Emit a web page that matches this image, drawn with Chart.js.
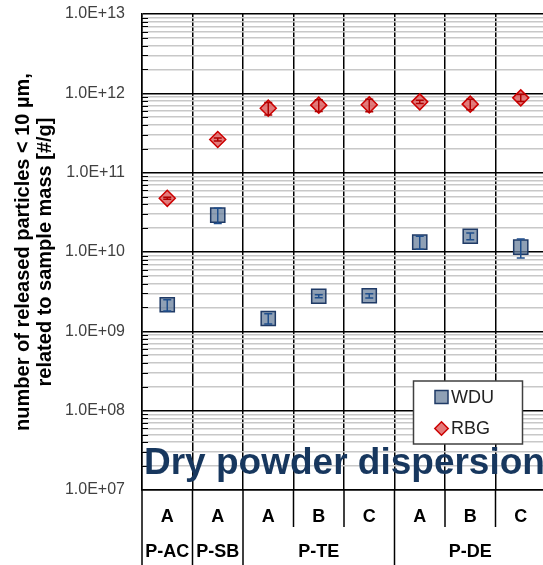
<!DOCTYPE html>
<html>
<head>
<meta charset="utf-8">
<style>
  html, body { margin: 0; padding: 0; background: #fff; overflow: hidden; }
  canvas { display: block; }
</style>
</head>
<body>
<canvas id="chart" width="546" height="565"></canvas>
<script src="https://cdn.jsdelivr.net/npm/chart.js@4"></script>
<script>
const categories = ['A', 'A', 'A', 'B', 'C', 'A', 'B', 'C']
const groups = ['P-AC', 'P-SB', 'P-TE', 'P-DE']
const groupSizes = [1, 1, 3, 3]

const wduValues = [2.16e9, 2.92e10, 1.45e9, 2.77e9, 2.81e9, 1.33e10, 1.58e10, 1.15e10]
const wduErrors = [3.5e8, 6.4e9, 2.1e8, 1.2e8, 1.7e8, 2.5e9, 1.5e9, 3.1e9]
const rbgValues = [4.75e10, 2.62e11, 6.5e11, 7.1e11, 7.16e11, 7.81e11, 7.31e11, 8.77e11]
const rbgErrors = [1.4e9, 1.2e10, 1.17e11, 1.2e11, 1.29e11, 3.9e10, 1.1e11, 8.8e10]

const yMajorTicks = [1e7, 1e8, 1e9, 1e10, 1e11, 1e12, 1e13]
const yTitle = ['number of released particles < 10 µm,', 'related to sample mass [#/g]']
const annotationText = 'Dry powder dispersion'

Chart.defaults.font.family = "'Liberation Sans', Arial, sans-serif"
Chart.defaults.animation = false

const isMajor = v => yMajorTicks.some(m => Math.abs(v / m - 1) < 1e-6)
const formatTick = v => {
    const exp = Math.round(Math.log10(v))
    return '1.0E+' + String(exp).padStart(2, '0')
}

// ticks 1..9 in every decade
function buildLogTicks(scale) {
    const ticks = []
    yMajorTicks.forEach((m, i) => {
        ticks.push({ value: m, major: true })
        if (i < yMajorTicks.length - 1) {
            for (let k = 2; k <= 9; k++) ticks.push({ value: m * k, major: false })
        }
    })
    scale.ticks = ticks
}

// small inner tick marks on the y axis + separators and group names under the x axis
const axisDecor = {
    id: 'axisDecor',
    beforeDatasetsDraw(chart) {
        const { ctx, scales: { y } } = chart
        ctx.save()
        ctx.strokeStyle = '#000'
        ctx.lineWidth = 1
        y.ticks.forEach(t => {
            if (isMajor(t.value)) return
            const py = Math.round(y.getPixelForValue(t.value)) + 0.5
            ctx.beginPath()
            ctx.moveTo(y.right, py)
            ctx.lineTo(y.right + 6, py)
            ctx.stroke()
        })
        ctx.restore()
    },
    afterDraw(chart) {
        const { ctx, scales: { x } } = chart
        const colW = x.getPixelForValue(1) - x.getPixelForValue(0)
        const groupEdges = [0]
        groupSizes.forEach(s => groupEdges.push(groupEdges[groupEdges.length - 1] + s))
        ctx.save()
        ctx.strokeStyle = '#000'
        ctx.lineWidth = 1.5
        for (let i = 0; i <= categories.length; i++) {
            const px = x.getPixelForValue(0) - colW / 2 + i * colW
            const end = groupEdges.includes(i) ? chart.height : x.top + 37
            ctx.beginPath()
            ctx.moveTo(px, x.top)
            ctx.lineTo(px, end)
            ctx.stroke()
        }
        ctx.fillStyle = '#000'
        ctx.font = "bold 18px 'Liberation Sans', Arial, sans-serif"
        ctx.textAlign = 'center'
        ctx.textBaseline = 'middle'
        groups.forEach((g, i) => {
            const a = x.getPixelForValue(groupEdges[i])
            const b = x.getPixelForValue(groupEdges[i + 1] - 1)
            ctx.fillText(g, (a + b) / 2, x.top + 62.5)
        })
        ctx.restore()
    }
}

const errorBars = {
    id: 'errorBars',
    afterDatasetsDraw(chart) {
        const { ctx, scales: { y } } = chart
        chart.data.datasets.forEach((ds, i) => {
            const meta = chart.getDatasetMeta(i)
            ctx.save()
            ctx.strokeStyle = ds.errorColor
            ctx.lineWidth = 1.5
            meta.data.forEach((pt, j) => {
                const v = ds.data[j]
                const e = ds.errors[j]
                const top = y.getPixelForValue(v + e)
                const bottom = y.getPixelForValue(v - e)
                ctx.beginPath()
                ctx.moveTo(pt.x, top)
                ctx.lineTo(pt.x, bottom)
                ctx.moveTo(pt.x - 4, top)
                ctx.lineTo(pt.x + 4, top)
                ctx.moveTo(pt.x - 4, bottom)
                ctx.lineTo(pt.x + 4, bottom)
                ctx.stroke()
            })
            ctx.restore()
        })
    }
}

const overlayText = {
    id: 'overlayText',
    afterDatasetsDraw(chart) {
        const { ctx, chartArea } = chart
        ctx.save()
        ctx.fillStyle = '#17375e'
        ctx.font = "bold 37px 'Liberation Sans', Arial, sans-serif"
        ctx.textAlign = 'left'
        ctx.textBaseline = 'alphabetic'
        ctx.fillText(annotationText, chartArea.left + 2, 473.5)
        ctx.restore()
    }
}

const legendBox = {
    id: 'legendBox',
    afterDraw(chart) {
        const { ctx } = chart
        ctx.save()
        ctx.fillStyle = '#fff'
        ctx.strokeStyle = '#404040'
        ctx.lineWidth = 1.5
        ctx.fillRect(413.5, 381, 109, 63)
        ctx.strokeRect(413.5, 381, 109, 63)
        chart.data.datasets.forEach((ds, i) => {
            const cy = 397 + i * 31.5
            ctx.fillStyle = ds.backgroundColor
            ctx.strokeStyle = ds.borderColor
            ctx.lineWidth = 1.5
            Chart.helpers.drawPoint(ctx, {
                pointStyle: ds.pointStyle,
                radius: ds.pointStyle === 'rect' ? 9.2 : 6.7,
                borderWidth: 1.5,
                rotation: 0
            }, 441.5, cy)
            ctx.fillStyle = '#222'
            ctx.font = "18px 'Liberation Sans', Arial, sans-serif"
            ctx.textAlign = 'left'
            ctx.textBaseline = 'middle'
            ctx.fillText(ds.label, 451, cy + 1)
        })
        ctx.restore()
    }
}

const data = {
    labels: categories,
    datasets: [{
        label: 'WDU',
        data: wduValues,
        errors: wduErrors,
        errorColor: '#1f4e8c',
        showLine: false,
        pointStyle: 'rect',
        pointRadius: 10,
        pointHoverRadius: 10,
        backgroundColor: 'rgba(105, 128, 156, 0.75)',
        borderColor: '#1f3a66',
        pointBorderWidth: 1.5
    }, {
        label: 'RBG',
        data: rbgValues,
        errors: rbgErrors,
        errorColor: '#b00000',
        showLine: false,
        pointStyle: 'rectRot',
        pointRadius: 8,
        pointHoverRadius: 8,
        backgroundColor: 'rgba(220, 90, 90, 0.8)',
        borderColor: '#cc0000',
        pointBorderWidth: 1.5
    }]
}

const config = {
    type: 'line',
    data: data,
    options: {
        responsive: false,
        layout: { autoPadding: false, padding: { top: 14, left: 0, right: 0, bottom: 0 } },
        plugins: {
            legend: { display: false },
            tooltip: { enabled: false }
        },
        scales: {
            x: {
                offset: true,
                grid: { offset: true, color: '#000', lineWidth: 1.5, drawTicks: false },
                border: { color: '#000', width: 1.5 },
                ticks: {
                    color: '#000',
                    font: { size: 18, weight: 'bold' },
                    padding: 16,
                    maxRotation: 0,
                    autoSkip: false
                },
                afterFit: s => { s.height = 75 }
            },
            y: {
                type: 'logarithmic',
                min: 1e7,
                max: 1e13,
                afterBuildTicks: buildLogTicks,
                grid: {
                    color: c => isMajor(c.tick.value) ? '#000' : '#c8c8c8',
                    lineWidth: 1.5,
                    drawTicks: false
                },
                border: { color: '#000', width: 1.5 },
                ticks: {
                    autoSkip: false,
                    color: '#404040',
                    font: { size: 16 },
                    padding: 17,
                    callback: v => isMajor(v) ? formatTick(v) : ''
                },
                title: {
                    display: true,
                    text: yTitle,
                    color: '#000',
                    font: { size: 20, weight: 'bold', lineHeight: 1.1 },
                    padding: { top: 12, bottom: 0 }
                },
                afterFit: s => {
                    s.width = 142
                    s.paddingTop = 0
                    s.paddingBottom = 0
                }
            }
        }
    },
    plugins: [axisDecor, errorBars, overlayText, legendBox]
}

new Chart(document.querySelector('#chart'), config)
</script>
</body>
</html>
